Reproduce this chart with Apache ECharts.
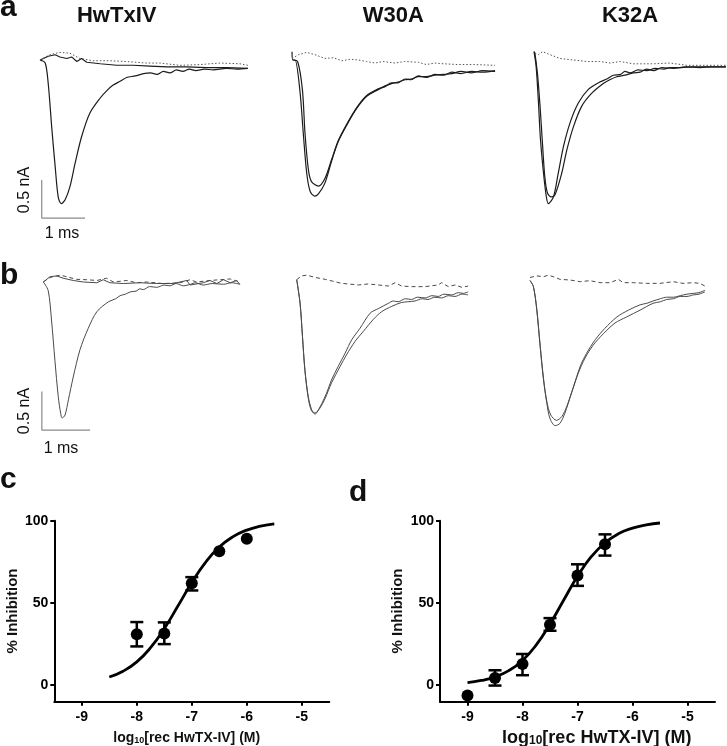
<!DOCTYPE html>
<html><head><meta charset="utf-8">
<script src="https://cdn.jsdelivr.net/npm/echarts@6/dist/echarts.min.js"></script>
<style>html,body{margin:0;padding:0;background:#fff}#c{width:727px;height:746px}</style>
</head><body><div id="c"></div>
<script>
// ---------- Panel a traces: [time (ms), current (nA)] ----------
const aHwCtrl = [[0,0],[0.12,-0.04],[0.19,-0.31],[0.27,-0.88],[0.35,-1.40],[0.42,-1.80],[0.49,-1.89],[0.58,-1.84],[0.69,-1.67],[0.81,-1.36],[0.96,-1.01],[1.15,-0.70],[1.39,-0.50],[1.55,-0.40],[1.69,-0.33],[1.85,-0.28],[2.0,-0.23],[2.2,-0.21],[2.39,-0.18],[2.55,-0.17],[2.7,-0.19],[2.85,-0.15],[3.0,-0.17],[3.15,-0.13],[3.3,-0.15],[3.45,-0.12],[3.6,-0.14],[3.8,-0.12],[4.0,-0.13],[4.3,-0.11],[4.55,-0.12],[4.8,-0.11]];
const aHwTox = [[0,0],[0.08,0.02],[0.19,0.05],[0.35,0.07],[0.46,0.04],[0.62,0.02],[0.73,0.04],[0.85,-0.02],[0.96,0.02],[1.08,-0.03],[1.39,-0.05],[1.77,-0.07],[2.15,-0.07],[2.54,-0.08],[2.93,-0.09],[3.39,-0.09],[3.85,-0.10],[4.31,-0.10],[4.8,-0.11]];
const aHwTtx = [[0,0],[0.23,0.07],[0.46,0.10],[0.69,0.09],[0.92,0.02],[1.23,-0.01],[1.62,-0.01],[2.0,-0.02],[2.46,-0.04],[2.77,-0.04],[3.23,-0.07],[3.69,-0.06],[4.16,-0.04],[4.62,-0.05],[4.8,-0.07]];

const aW30Ctrl = [[0,0.11],[0.02,0],[0.07,0],[0.18,-0.39],[0.26,-0.96],[0.34,-1.49],[0.42,-1.73],[0.52,-1.79],[0.61,-1.76],[0.76,-1.62],[0.92,-1.32],[1.07,-1.07],[1.26,-0.86],[1.49,-0.64],[1.72,-0.48],[1.99,-0.39],[2.15,-0.34],[2.30,-0.31],[2.45,-0.29],[2.61,-0.26],[2.75,-0.25],[2.92,-0.22],[3.1,-0.22],[3.30,-0.20],[3.5,-0.19],[3.69,-0.18],[3.9,-0.15],[4.15,-0.17],[4.4,-0.14],[4.69,-0.15]];
const aW30Tox = [[0.02,0],[0.13,-0.02],[0.24,-0.39],[0.30,-0.96],[0.38,-1.45],[0.45,-1.60],[0.61,-1.66],[0.76,-1.56],[0.92,-1.30],[1.07,-1.06],[1.26,-0.85],[1.49,-0.63],[1.72,-0.47],[1.99,-0.38],[2.15,-0.35],[2.30,-0.30],[2.45,-0.30],[2.61,-0.25],[2.75,-0.26],[2.92,-0.21],[3.1,-0.23],[3.30,-0.19],[3.5,-0.20],[3.69,-0.16],[3.9,-0.18],[4.15,-0.15],[4.4,-0.16],[4.69,-0.14]];
const aW30Ttx = [[0,0.02],[0.15,0.07],[0.34,0.10],[0.53,0.07],[0.76,0.02],[0.95,0.03],[1.15,-0.01],[1.35,0.01],[1.53,0],[1.72,-0.02],[1.92,-0.04],[2.1,-0.02],[2.38,-0.04],[2.6,-0.02],[2.92,-0.03],[3.1,-0.06],[3.30,-0.04],[3.5,-0.05],[3.84,-0.06],[4.2,-0.06],[4.69,-0.07]];

const aK32Ctrl = [[0,0.11],[0.05,-0.09],[0.10,-0.53],[0.15,-1.05],[0.22,-1.49],[0.28,-1.78],[0.33,-1.89],[0.45,-1.80],[0.56,-1.49],[0.68,-1.14],[0.83,-0.83],[1.02,-0.57],[1.25,-0.39],[1.52,-0.29],[1.68,-0.25],[1.83,-0.20],[2.0,-0.19],[2.1,-0.15],[2.22,-0.17],[2.4,-0.13],[2.6,-0.14],[2.8,-0.11],[3.0,-0.12],[3.14,-0.10],[3.4,-0.10],[3.68,-0.09],[4.0,-0.09],[4.43,-0.09]];
const aK32Tox = [[0,0.11],[0.02,0.09],[0.08,-0.18],[0.14,-0.61],[0.20,-1.14],[0.25,-1.54],[0.31,-1.75],[0.39,-1.80],[0.48,-1.78],[0.64,-1.49],[0.76,-1.18],[0.91,-0.88],[1.10,-0.61],[1.33,-0.44],[1.60,-0.31],[1.75,-0.26],[1.91,-0.22],[2.1,-0.20],[2.29,-0.17],[2.45,-0.16],[2.6,-0.12],[2.76,-0.14],[2.95,-0.10],[3.22,-0.11],[3.5,-0.09],[3.83,-0.10],[4.1,-0.09],[4.43,-0.09]];
const aK32Ttx = [[0.02,0.09],[0.10,0.07],[0.20,0.11],[0.37,0.07],[0.60,0.02],[0.91,0],[1.22,-0.02],[1.52,-0.02],[1.76,-0.04],[1.99,-0.02],[2.29,-0.05],[2.76,-0.05],[3.14,-0.04],[3.53,-0.07],[3.99,-0.07],[4.43,-0.07]];

// ---------- Panel b traces ----------
const bHwCtrl = [[0,0],[0.10,-0.11],[0.17,-0.50],[0.24,-1.03],[0.31,-1.51],[0.36,-1.73],[0.39,-1.79],[0.45,-1.75],[0.52,-1.55],[0.62,-1.25],[0.76,-0.89],[0.93,-0.61],[1.11,-0.39],[1.35,-0.26],[1.50,-0.22],[1.59,-0.18],[1.70,-0.16],[1.80,-0.13],[1.92,-0.12],[2.0,-0.09],[2.07,-0.10],[2.2,-0.06],[2.35,-0.07],[2.5,-0.04],[2.62,-0.05],[2.75,-0.02],[2.90,-0.05],[3.05,-0.03],[3.15,-0.01],[3.31,-0.04],[3.5,-0.02],[3.73,-0.03],[3.9,-0.01],[4.07,-0.03]];
const bHwTox = [[0,0],[0.14,0.07],[0.28,0.08],[0.41,0.05],[0.62,0.02],[0.83,0],[1.11,-0.01],[1.24,0.03],[1.38,-0.01],[1.66,-0.02],[2.0,-0.01],[2.35,-0.02],[2.69,-0.02],[2.97,0.02],[3.04,-0.04],[3.31,-0.01],[3.45,0.02],[3.59,-0.02],[3.73,0.03],[3.87,-0.01],[4.0,0.02],[4.07,-0.03]];
const bHwTtx = [[0,0],[0.14,0.06],[0.35,0.09],[0.48,0.07],[0.69,0.035],[0.90,0.03],[1.11,0.02],[1.31,0.05],[1.45,0],[1.73,0.02],[1.93,-0.01],[2.14,0],[2.48,-0.02],[2.83,-0.01],[3.04,0.03],[3.17,0],[3.45,0.02],[3.66,0.03],[3.87,0.04],[4.07,0]];

const bW30Ctrl = [[0,0.03],[0.07,-0.28],[0.12,-0.72],[0.17,-1.16],[0.24,-1.51],[0.31,-1.68],[0.38,-1.74],[0.45,-1.68],[0.52,-1.60],[0.62,-1.46],[0.72,-1.29],[0.86,-1.11],[1.0,-0.94],[1.14,-0.76],[1.31,-0.61],[1.52,-0.41],[1.69,-0.35],[1.90,-0.28],[2.0,-0.25],[2.10,-0.26],[2.25,-0.22],[2.38,-0.23],[2.5,-0.20],[2.66,-0.21],[2.8,-0.18],[2.93,-0.19],[3.05,-0.16],[3.21,-0.17],[3.35,-0.14],[3.45,-0.15],[3.55,-0.13]];
const bW30Tox = [[0,0.03],[0.07,-0.28],[0.12,-0.72],[0.17,-1.16],[0.24,-1.53],[0.31,-1.70],[0.39,-1.72],[0.48,-1.66],[0.59,-1.53],[0.72,-1.33],[0.90,-1.11],[1.03,-0.96],[1.21,-0.78],[1.38,-0.65],[1.59,-0.49],[1.76,-0.39],[1.97,-0.32],[2.17,-0.27],[2.3,-0.26],[2.45,-0.25],[2.6,-0.22],[2.72,-0.23],[2.86,-0.20],[3.0,-0.21],[3.14,-0.18],[3.28,-0.19],[3.42,-0.16],[3.55,-0.17]];
const bW30Ttx = [[0,0.03],[0.10,0.08],[0.21,0.09],[0.38,0.06],[0.59,0.035],[0.79,0.004],[0.93,-0.018],[1.07,-0.026],[1.28,-0.039],[1.48,-0.026],[1.69,-0.039],[1.90,-0.053],[2.04,-0.009],[2.17,-0.053],[2.38,-0.061],[2.66,-0.061],[2.93,-0.039],[3.0,-0.009],[3.14,-0.061],[3.28,-0.039],[3.42,-0.07],[3.55,-0.053]];

const bK32Ctrl = [[0,0.02],[0.07,-0.06],[0.14,-0.37],[0.21,-0.85],[0.28,-1.29],[0.35,-1.60],[0.41,-1.79],[0.52,-1.89],[0.62,-1.86],[0.72,-1.73],[0.86,-1.46],[1.0,-1.20],[1.14,-1.0],[1.31,-0.83],[1.52,-0.68],[1.76,-0.54],[2.0,-0.46],[2.28,-0.37],[2.55,-0.28],[2.7,-0.26],[2.83,-0.23],[2.97,-0.22],[3.11,-0.19],[3.25,-0.19],[3.38,-0.17],[3.5,-0.16],[3.62,-0.13]];
const bK32Tox = [[0,0.02],[0.07,-0.06],[0.14,-0.35],[0.21,-0.83],[0.28,-1.27],[0.35,-1.58],[0.43,-1.75],[0.55,-1.82],[0.66,-1.77],[0.76,-1.64],[0.90,-1.38],[1.04,-1.11],[1.17,-0.94],[1.35,-0.76],[1.55,-0.61],[1.80,-0.46],[2.04,-0.37],[2.28,-0.30],[2.42,-0.28],[2.55,-0.25],[2.7,-0.22],[2.83,-0.20],[2.97,-0.20],[3.11,-0.18],[3.25,-0.16],[3.38,-0.15],[3.5,-0.14],[3.62,-0.11]];
const bK32Ttx = [[0,0.06],[0.14,0.08],[0.28,0.07],[0.38,0.09],[0.48,0.07],[0.62,0.035],[0.83,0.026],[1.04,0.004],[1.24,0.018],[1.45,-0.009],[1.66,-0.009],[1.83,0.035],[1.93,-0.009],[2.14,-0.009],[2.41,-0.018],[2.69,-0.018],[2.97,0.004],[3.17,-0.018],[3.38,-0.009],[3.52,-0.018],[3.62,-0.053]];

// scale bars: [time, current]
const scaleBarA = [[0.04,-1.58],[0.04,-2.08],[1.04,-2.08]];
const scaleBarB = [[-0.03,-1.44],[-0.03,-1.95],[0.97,-1.95]];

// ---------- Dose-response c ----------
const cX = [-8, -7.5, -7, -6.5, -6];
const cMean = [31, 31.5, 62, 81.5, 89];
const cLow = [23.6, 25, 57.6, null, null];
const cHigh = [38.4, 38.2, 65.7, null, null];
const cFitX = [-8.5,-8.25,-8,-7.75,-7.5,-7.25,-7,-6.75,-6.5,-6.25,-6,-5.75,-5.5];
const cFitY = [5.0,8.5,14.2,22.8,34.4,48.3,62.4,74.7,84.0,90.3,94.3,96.7,98.1];

// ---------- Dose-response d ----------
const dX = [-9, -8.5, -8, -7.5, -7, -6.5];
const dMean = [-6.3, 4.4, 12.9, 36.8, 66.7, 85.7];
const dLow = [null, -0.2, 6.1, 33.1, 60.4, 78.8];
const dHigh = [null, 9.1, 19.0, 40.8, 73.5, 91.7];
const dFitX = [-9,-8.75,-8.5,-8.25,-8,-7.75,-7.5,-7.25,-7,-6.75,-6.5,-6.25,-6,-5.75,-5.5];
const dFitY = [1.6,2.9,5.1,8.9,15.1,24.5,37.2,51.8,66.2,78.1,86.6,92.2,95.5,97.5,98.6];

const xTicks = [-9, -8, -7, -6, -5];
const yTicks = [0, 50, 100];

// ---------- build ----------
const FONT = 'Liberation Sans, Arial, Helvetica, sans-serif';
const grids = [
  {left:40, top:44.8, width:216.5, height:182.4},
  {left:292, top:44.8, width:216.5, height:182.4},
  {left:534, top:44.8, width:192.7, height:182.4},
  {left:38.47, top:266.8, width:207.7, height:182.4},
  {left:296.7, top:266.8, width:183.5, height:182.4},
  {left:530, top:266.8, width:183.5, height:182.4},
  {left:54.3, top:520.7, width:275, height:181},
  {left:440, top:520.7, width:275, height:181}
].map(g => Object.assign({outerBoundsMode:'none', containLabel:false}, g));
const xRanges = [[0,5],[0,5],[0,4.45],[-0.1,4.2],[0,3.8],[0,3.8]];

const xAxes = [], yAxes = [];
xRanges.forEach((r,i) => {
  xAxes.push({type:'value', gridIndex:i, min:r[0], max:r[1], show:false});
  yAxes.push({type:'value', gridIndex:i, min:-2.2, max:0.2, show:false});
});
const tickLabel = {color:'#000', fontWeight:'bold', fontSize:14, fontFamily:FONT};
[6,7].forEach(gi => {
  xAxes.push({type:'value', gridIndex:gi, min:-9.5, max:-4.5,
    axisLine:{show:true, onZero:false, lineStyle:{color:'#000', width:2}},
    axisTick:{show:true, length:4, customValues:xTicks, lineStyle:{color:'#000', width:2}},
    axisLabel:Object.assign({customValues:xTicks, margin:8}, tickLabel),
    splitLine:{show:false}});
  yAxes.push({type:'value', gridIndex:gi, min:-10, max:100,
    axisLine:{show:true, onZero:false, lineStyle:{color:'#000', width:2}},
    axisTick:{show:true, length:4, customValues:yTicks, lineStyle:{color:'#000', width:2}},
    axisLabel:Object.assign({customValues:yTicks, margin:6}, tickLabel),
    splitLine:{show:false}});
});

const series = [];
function trace(idx, data, color, width, type, smooth) {
  series.push({type:'line', xAxisIndex:idx, yAxisIndex:idx, data:data, showSymbol:false, symbol:'none',
    smooth: smooth ? 0.3 : false, silent:true, clip:true,
    lineStyle:{color:color, width:width, type:type || 'solid'}});
}
const dark = '#1c1c1c', dotc = '#555', gray = '#4a4a4a';
trace(0, aHwCtrl, dark, 1.2, 'solid', true);
trace(0, aHwTox, dark, 1.1, 'solid', false);
trace(0, aHwTtx, dotc, 1, [1.5,2], false);
trace(1, aW30Ctrl, dark, 1.2, 'solid', true);
trace(1, aW30Tox, dark, 1.2, 'solid', true);
trace(1, aW30Ttx, dotc, 1, [1.5,2], false);
trace(2, aK32Ctrl, dark, 1.2, 'solid', true);
trace(2, aK32Tox, dark, 1.2, 'solid', true);
trace(2, aK32Ttx, dotc, 1, [1.5,2], false);
trace(3, bHwCtrl, gray, 1, 'solid', true);
trace(3, bHwTox, gray, 1, 'solid', false);
trace(3, bHwTtx, gray, 1, [4,3], false);
trace(4, bW30Ctrl, gray, 1, 'solid', true);
trace(4, bW30Tox, gray, 1, 'solid', true);
trace(4, bW30Ttx, gray, 1, [4,3], false);
trace(5, bK32Ctrl, gray, 1, 'solid', true);
trace(5, bK32Tox, gray, 1, 'solid', true);
trace(5, bK32Ttx, gray, 1, [4,3], false);
trace(0, scaleBarA, '#8a8a8a', 1.2, 'solid', false);
trace(3, scaleBarB, '#8a8a8a', 1.2, 'solid', false);

function errRender(params, api) {
  const x = api.value(0), lo = api.value(1), hi = api.value(2);
  const p1 = api.coord([x, lo]), p2 = api.coord([x, hi]);
  const w = 6.5, st = {stroke:'#000', lineWidth:2.5};
  return {type:'group', children:[
    {type:'line', shape:{x1:p1[0], y1:p1[1], x2:p2[0], y2:p2[1]}, style:st},
    {type:'line', shape:{x1:p1[0]-w, y1:p1[1], x2:p1[0]+w, y2:p1[1]}, style:st},
    {type:'line', shape:{x1:p2[0]-w, y1:p2[1], x2:p2[0]+w, y2:p2[1]}, style:st}
  ]};
}
function dose(ai, X, M, L, H, FX, FY) {
  series.push({type:'line', xAxisIndex:ai, yAxisIndex:ai, data:FX.map((x,i)=>[x,FY[i]]),
    smooth:true, showSymbol:false, symbol:'none', silent:true, lineStyle:{color:'#000', width:2.8}});
  series.push({type:'custom', xAxisIndex:ai, yAxisIndex:ai, renderItem:errRender, silent:true,
    encode:{x:0, y:[1,2]},
    data: X.map((x,i)=>[x,L[i],H[i]]).filter(d=>d[1]!==null)});
  series.push({type:'scatter', xAxisIndex:ai, yAxisIndex:ai, data:X.map((x,i)=>[x,M[i]]),
    symbol:'circle', symbolSize:12, silent:true, itemStyle:{color:'#000', opacity:1}, z:5});
}
dose(6, cX, cMean, cLow, cHigh, cFitX, cFitY);
dose(7, dX, dMean, dLow, dHigh, dFitX, dFitY);

function txt(x, y, text, size, weight, opts, align) {
  return Object.assign({type:'text', x:x, y:y, silent:true,
    style:{text:text, fontSize:size, fontWeight:weight, fontFamily:FONT, fill:'#111',
      align:align || 'center', verticalAlign:'middle'}}, opts || {});
}
const rich = (s) => ({a:{fontSize:s, fontWeight:'bold', fontFamily:FONT, fill:'#111', lineHeight:s, verticalAlign:'middle'},
  s:{fontSize:Math.round(s*0.65), fontWeight:'bold', fontFamily:FONT, fill:'#111', lineHeight:Math.round(s*0.7), verticalAlign:'bottom'}});
const xTitle = '{a|log}{s|10}{a|[rec HwTX-IV] (M)}';

const graphic = [
  txt(0, 8, 'a', 30, 'bold', null, 'left'),
  txt(0, 276, 'b', 30, 'bold', null, 'left'),
  txt(0, 480, 'c', 30, 'bold', null, 'left'),
  txt(349, 493, 'd', 30, 'bold', null, 'left'),
  txt(116.7, 15.5, 'HwTxIV', 22, 'bold'),
  txt(393.3, 15.5, 'W30A', 22, 'bold'),
  txt(630, 16, 'K32A', 22, 'bold'),
  txt(25, 190, '0.5 nA', 16, 'normal', {rotation:Math.PI/2}),
  txt(62, 234, '1 ms', 16, 'normal'),
  txt(25, 411, '0.5 nA', 16, 'normal', {rotation:Math.PI/2}),
  txt(61, 449, '1 ms', 16, 'normal'),
  txt(12.5, 611, '% Inhibition', 15, 'bold', {rotation:Math.PI/2}),
  txt(398, 611, '% Inhibition', 15, 'bold', {rotation:Math.PI/2}),
  {type:'text', x:186.7, y:738, silent:true, style:{text:xTitle, rich:rich(14), align:'center', verticalAlign:'middle'}},
  {type:'text', x:596.7, y:738, silent:true, style:{text:xTitle, rich:rich(18), align:'center', verticalAlign:'middle'}}
];

const chart = echarts.init(document.getElementById('c'), null, {renderer:'canvas'});
chart.setOption({
  animation:false, backgroundColor:'#fff',
  grid:grids, xAxis:xAxes, yAxis:yAxes, series:series, graphic:graphic
});
</script></body></html>
